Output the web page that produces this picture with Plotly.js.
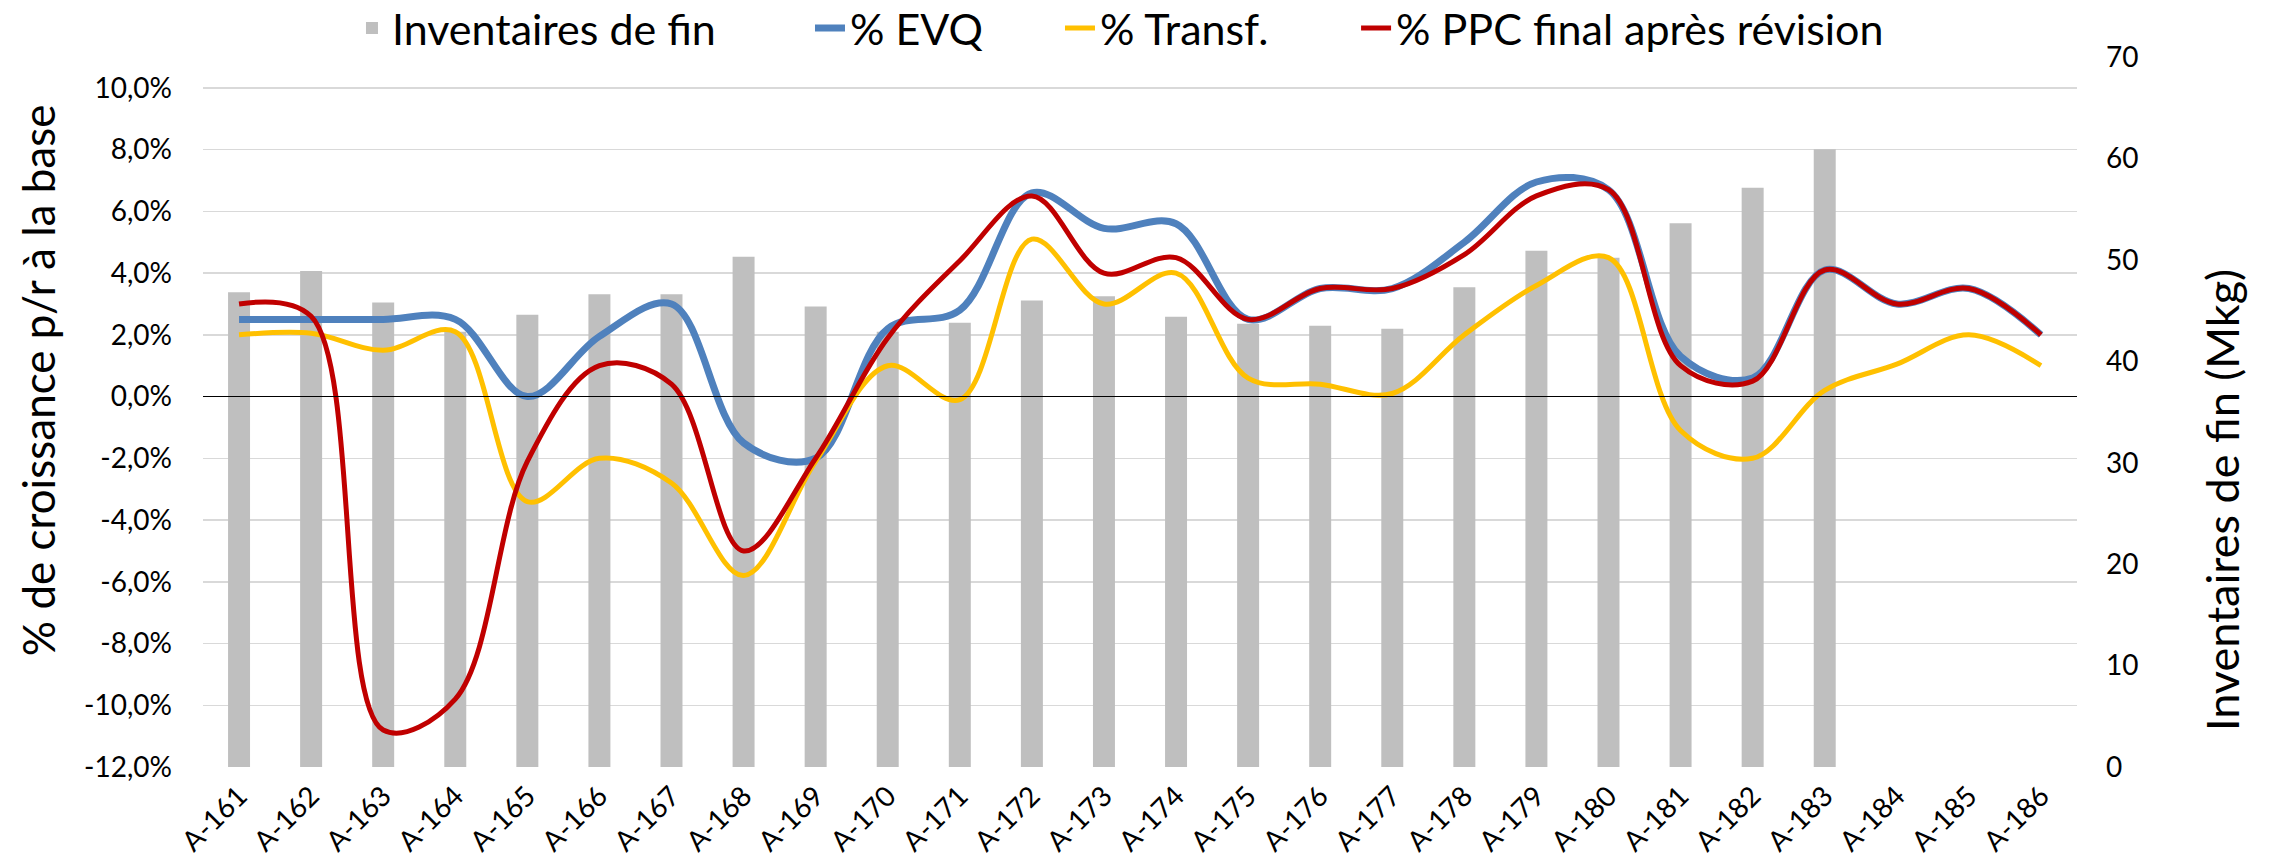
<!DOCTYPE html>
<html>
<head>
<meta charset="utf-8">
<script src="https://cdn.plot.ly/plotly-3.0.1.min.js"></script>
<style>
  html, body { margin: 0; padding: 0; background: #ffffff; }
  #chart { width: 2269px; height: 866px; }
</style>
</head>
<body>
<div id="chart"></div>
<script>
// ---- Data ----
const categories = ['A-161','A-162','A-163','A-164','A-165','A-166','A-167','A-168','A-169','A-170',
                    'A-171','A-172','A-173','A-174','A-175','A-176','A-177','A-178','A-179','A-180',
                    'A-181','A-182','A-183','A-184','A-185','A-186'];

// Inventaires de fin (Mkg) - right axis
const inventaires = [46.8, 48.9, 45.8, 42.9, 44.6, 46.6, 46.6, 50.3, 45.4, 42.9,
                     43.8, 46.0, 46.4, 44.4, 43.7, 43.5, 43.2, 47.3, 50.9, 50.2,
                     53.6, 57.1, 60.9, null, null, null];

// % de croissance p/r à la base - left axis (in %)
const evq = [2.5, 2.5, 2.5, 2.5, 0.0, 1.95, 3.0, -1.5, -2.0, 2.2,
             2.8, 6.6, 5.45, 5.6, 2.5, 3.5, 3.5, 5.0, 6.95, 6.7,
             1.3, 0.6, 4.1, 3.0, 3.5, 2.0];
const transf = [2.0, 2.05, 1.5, 2.1, -3.4, -2.0, -2.8, -5.8, -2.1, 1.0,
                -0.1, 5.1, 3.0, 4.0, 0.6, 0.4, 0.1, 2.0, 3.6, 4.5,
                -1.1, -2.0, 0.2, 1.05, 2.0, 1.0];
const ppc = [3.0, 2.6, -10.8, -9.8, -2.1, 1.0, 0.4, -5.0, -2.0, 1.9,
             4.4, 6.5, 4.0, 4.5, 2.5, 3.5, 3.5, 4.6, 6.5, 6.7,
             1.0, 0.5, 4.1, 3.0, 3.5, 2.0];

// Tick labels
const leftTickVals = [-12, -10, -8, -6, -4, -2, 0, 2, 4, 6, 8, 10];
const leftTickText = ['-12,0%', '-10,0%', '-8,0%', '-6,0%', '-4,0%', '-2,0%', '0,0%', '2,0%', '4,0%', '6,0%', '8,0%', '10,0%'];
const rightTickVals = [0, 10, 20, 30, 40, 50, 60, 70];
const rightTickText = ['0', '10', '20', '30', '40', '50', '60', '70'];

// Series names / titles
const seriesNames = ['Inventaires de fin', '% EVQ', '% Transf.', '% PPC final après révision'];
const leftTitle = '% de croissance p/r à la base';
const rightTitle = 'Inventaires de fin (Mkg)';

// ---- Chart ----
const FONT = 'Lato, "Open Sans", sans-serif';

const traces = [
  {
    type: 'bar', name: seriesNames[0], x: categories, y: inventaires,
    xaxis: 'x', yaxis: 'y', legend: 'legend',
    marker: { color: '#BFBFBF' }, hoverinfo: 'x+y'
  },
  {
    type: 'scatter', mode: 'lines', name: seriesNames[1], x: categories, y: evq,
    xaxis: 'x', yaxis: 'y2', legend: 'legend2',
    line: { color: '#4F81BD', width: 7, shape: 'spline', smoothing: 1 }
  },
  {
    type: 'scatter', mode: 'lines', name: seriesNames[2], x: categories, y: transf,
    xaxis: 'x', yaxis: 'y2', legend: 'legend3',
    line: { color: '#FFC000', width: 5, shape: 'spline', smoothing: 1 }
  },
  {
    type: 'scatter', mode: 'lines', name: seriesNames[3], x: categories, y: ppc,
    xaxis: 'x', yaxis: 'y2', legend: 'legend4',
    line: { color: '#C00000', width: 5, shape: 'spline', smoothing: 1 }
  }
];

const legendBase = {
  orientation: 'h', xanchor: 'left', yanchor: 'middle', y: 1.0408,
  bgcolor: 'rgba(0,0,0,0)', borderwidth: 0,
  font: { family: FONT, size: 43, color: '#000000' }
};

const layout = {
  width: 2269, height: 866,
  paper_bgcolor: '#ffffff', plot_bgcolor: '#ffffff',
  margin: { l: 203, r: 192, t: 57, b: 99, pad: 0, autoexpand: false },
  font: { family: FONT, color: '#000000', size: 28 },
  separators: ',.',
  bargap: 0.695,
  showlegend: true,
  legend: Object.assign({}, legendBase, { x: 0.0795 }),
  legend2: Object.assign({}, legendBase, { x: 0.3239 }),
  legend3: Object.assign({}, legendBase, { x: 0.4573 }),
  legend4: Object.assign({}, legendBase, { x: 0.6153 }),
  xaxis: {
    type: 'category', categoryorder: 'array', categoryarray: categories,
    range: [-0.5, categories.length - 0.5],
    tickangle: -45, ticks: '', showgrid: false, zeroline: false, showline: false,
    tickfont: { family: FONT, size: 28, color: '#000000' },
    ticklabelstandoff: 6,
    automargin: false
  },
  yaxis: {
    side: 'right', range: [0, 70],
    tickmode: 'array', tickvals: rightTickVals, ticktext: rightTickText,
    showgrid: false, zeroline: false, showline: false, ticks: '',
    tickfont: { family: FONT, size: 28, color: '#000000' },
    ticklabelstandoff: 28,
    automargin: false
  },
  yaxis2: {
    overlaying: 'y', side: 'left', range: [-12, 11],
    tickmode: 'array', tickvals: leftTickVals, ticktext: leftTickText,
    showgrid: true, gridcolor: '#D9D9D9', gridwidth: 1.5,
    zeroline: true, zerolinecolor: '#000000', zerolinewidth: 1.8,
    zerolinelayer: 'above traces',
    showline: false, ticks: '',
    tickfont: { family: FONT, size: 28, color: '#000000' },
    ticklabelstandoff: 30,
    automargin: false
  },
  annotations: [
    {
      text: leftTitle, xref: 'paper', yref: 'paper', x: -0.088, y: 0.545,
      xanchor: 'center', yanchor: 'middle', textangle: -90, showarrow: false,
      font: { family: FONT, size: 44, color: '#000000' }
    },
    {
      text: rightTitle, xref: 'paper', yref: 'paper', x: 1.0774, y: 0.376,
      xanchor: 'center', yanchor: 'middle', textangle: -90, showarrow: false,
      font: { family: FONT, size: 45, color: '#000000' }
    }
  ]
};

Plotly.newPlot('chart', traces, layout, { staticPlot: true, displayModeBar: false });
</script>
</body>
</html>
